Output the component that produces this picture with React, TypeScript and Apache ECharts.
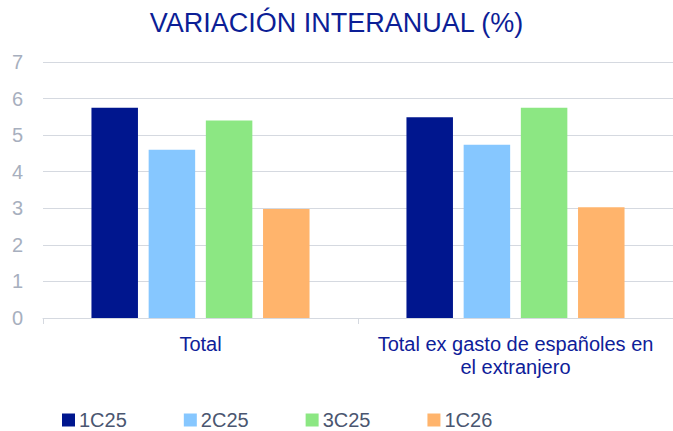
import React, { useEffect, useRef } from "react";
import * as echarts from "echarts";

const categories = ["Total", "Total ex gasto de españoles en\nel extranjero"];
const seriesNames = ["1C25", "2C25", "3C25", "1C26"];
const s1C25 = [5.75, 5.49];
const s2C25 = [4.6, 4.74];
const s3C25 = [5.4, 5.75];
const s1C26 = [2.98, 3.03];
const seriesData = [s1C25, s2C25, s3C25, s1C26];
const colors = ["#00168E", "#86C7FF", "#8CE783", "#FFB46C"];

export default function App() {
  const ref = useRef<HTMLDivElement>(null);
  useEffect(() => {
    if (!ref.current) return;
    const chart = echarts.init(ref.current, undefined, { renderer: "svg" });
    const font = "Liberation Sans, Arial, sans-serif";
    chart.setOption({
      animation: false,
      textStyle: { fontFamily: font },
      title: {
        text: "VARIACIÓN INTERANUAL (%)",
        left: "center",
        top: 4,
        textStyle: { color: "#0C1E96", fontSize: 27, fontWeight: "normal", fontFamily: font },
      },
      legend: {
        data: seriesNames,
        left: 62,
        top: 410,
        padding: 0,
        icon: "rect",
        itemWidth: 13,
        itemHeight: 13,
        itemGap: 57,
        textStyle: { color: "#4A5670", fontSize: 20, lineHeight: 20, fontFamily: font, padding: [0, 0, 0, -1] },
      },
      grid: { left: 43, right: 0, top: 62, bottom: 113, containLabel: false },
      xAxis: {
        type: "category",
        data: categories,
        axisLine: { lineStyle: { color: "#D5D9E0", width: 1 } },
        axisTick: { show: true, length: 6, lineStyle: { color: "#D5D9E0" } },
        axisLabel: {
          interval: 0,
          color: "#0E2099",
          fontSize: 20,
          lineHeight: 23,
          margin: 14,
          fontFamily: font,
        },
      },
      yAxis: {
        type: "value",
        min: 0,
        max: 7,
        interval: 1,
        axisLine: { show: false },
        axisTick: { show: false },
        splitLine: { lineStyle: { color: "#D5D9E0", width: 1 } },
        axisLabel: { color: "#A7AFBE", fontSize: 20, margin: 20, fontFamily: font },
      },
      series: seriesNames.map((name, i) => ({
        name,
        type: "bar",
        data: seriesData[i],
        barWidth: 46.5,
        barGap: "23%",
        itemStyle: { color: colors[i] },
      })),
    });
    return () => chart.dispose();
  }, []);
  return <div ref={ref} style={{ width: 673, height: 431, position: "absolute", left: 0, top: 0 }} />;
}
